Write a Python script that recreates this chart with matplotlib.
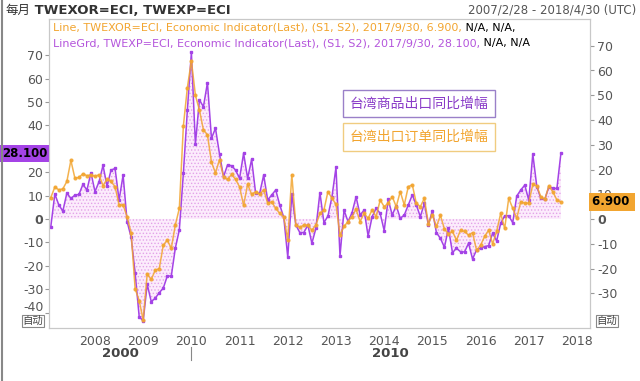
import matplotlib
matplotlib.use('Agg')
import matplotlib.pyplot as plt
from matplotlib.transforms import ScaledTranslation

plt.rcParams['font.family'] = ['DejaVu Sans', 'Noto Sans CJK SC']
plt.rcParams['hatch.linewidth'] = 0.6

# monthly data, Feb 2007 .. Sep 2017
start_year, start_month = 2007, 2

# TWEXP (exports yoy, left axis)
twexp = [-3.3, 10.7, 6.0, 3.4, 11.1, 8.8, 10.2, 10.5, 14.8, 12.4, 19.8,
         11.7, 15.9, 22.9, 14.1, 20.9, 21.6, 8.1, 18.8, -1.1, -7.8, -23.2, -41.7,
         -43.6, -27.9, -35.3, -33.9, -31.5, -29.6, -24.4, -24.4, -12.5, -4.7, 19.5, 46.6,
         71.2, 32.1, 50.9, 48.0, 58.3, 34.5, 38.8, 27.8, 18.1, 23.1, 22.8, 20.9,
         17.4, 28.1, 17.4, 25.5, 11.0, 11.0, 18.8, 8.1, 10.3, 12.4, 6.0, 0.7,
         -16.4, 10.7, -2.6, -5.8, -5.8, -2.6, -10.4, -4.0, 11.3, -1.6, 1.3, 9.5,
         22.1, -15.8, 3.8, -1.1, 2.7, 9.5, 1.7, 3.8, -7.3, 1.0, 4.6, 2.4,
         -5.0, 8.4, 1.7, 5.7, 0.3, 1.7, 6.0, 10.3, 6.0, 1.0, 6.7, -2.6,
         3.6, -5.8, -8.3, -12.1, -4.0, -14.4, -12.5, -14.0, -14.1, -10.4, -17.1, -13.2,
         -12.5, -11.8, -11.4, -6.1, -9.4, -1.9, 1.4, 1.4, -1.6, 9.8, 12.4, 14.5,
         8.0, 27.8, 13.8, 8.8, 8.5, 13.8, 13.1, 13.1, 28.1]

# TWEXOR (export orders yoy, right axis)
twexor = [8.7, 12.9, 11.8, 12.2, 15.2, 23.7, 16.5, 16.8, 18.3, 17.5, 17.9,
          17.2, 17.9, 13.5, 16.1, 15.2, 13.1, 5.7, 5.7, 0.9, -5.6, -28.2, -32.9,
          -40.8, -22.1, -24.4, -20.7, -20.0, -10.6, -8.5, -11.8, -2.4, 4.3, 37.5, 53.1,
          64.0, 50.0, 44.0, 36.0, 34.0, 23.0, 18.6, 24.0, 17.0, 16.0, 18.0, 16.0,
          13.0, 5.5, 14.0, 10.0, 11.0, 10.0, 11.8, 6.4, 7.0, 4.3, 2.3, 0.9,
          -8.5, 17.9, -2.4, -3.4, -2.4, -2.5, -4.5, -2.4, 2.3, 3.7, 11.1, 8.4,
          6.0, -6.5, -3.0, -1.0, 1.0, 4.0, -1.0, 2.3, 0.3, 3.7, 0.9, 7.7,
          5.0, 6.4, 9.1, 5.0, 11.1, 5.7, 13.1, 13.8, 6.4, 5.0, 8.4, -1.8,
          1.6, -3.0, 1.5, -4.0, -6.0, -5.0, -8.5, -4.5, -5.0, -6.5, -5.5, -12.6,
          -10.6, -7.0, -4.5, -10.0, -5.0, 2.3, -3.8, 8.4, 4.3, 0.3, 7.0, 6.4,
          6.5, 14.0, 13.4, 9.0, 8.0, 13.4, 11.0, 7.7, 6.9]

years = list(range(2008, 2019))
left_ticks = list(range(-40, 80, 10))
right_ticks = list(range(-30, 80, 10))
legend_labels = ['台湾商品出口同比增幅', '台湾出口订单同比增幅']

purple = '#a443e6'
orange = '#f2a530'
grey = '#555555'

x = [start_year + (start_month - 1 + i) / 12 for i in range(len(twexp))]

W, H = 640, 381
fig = plt.figure(figsize=(W / 100, H / 100), dpi=100)
L, R, T, B = 49, 590, 19, 328
ax = fig.add_axes([L / W, 1 - B / H, (R - L) / W, (B - T) / H])
ax2 = ax.twinx()

ax.set_xlim(2007.046, 2018.27)
ax.set_ylim(-46.6, 85.5)
ax2.set_ylim(-44.0, 80.8)

# purple series with dotted pink fill down to zero
ax.fill_between(x, twexp, 0, facecolor='#fcecfc', edgecolor='#e3a3e8', hatch='.....', linewidth=0)
ax.plot(x, twexp, color=purple, lw=1.1, marker='s', ms=2.0, zorder=3)
ax2.plot(x, twexor, color=orange, lw=1.1, marker='o', ms=2.0, alpha=0.85, zorder=3)

for a in (ax, ax2):
    for s in a.spines.values():
        s.set_color('#c8c8c8')

ax.set_yticks(left_ticks)
ax.set_yticklabels([str(v) for v in left_ticks])
ax2.set_yticks(right_ticks)
ax2.set_yticklabels([str(v) for v in right_ticks])
ax.tick_params(axis='y', length=3, color='#999999', labelsize=9, labelcolor=grey, pad=1)
ax2.tick_params(axis='y', length=3, color='#999999', labelsize=9, labelcolor=grey, pad=2)
for lab in ax.get_yticklabels() + ax2.get_yticklabels():
    if lab.get_text() == '0':
        lab.set_fontweight('bold')
for lab in ax.get_yticklabels():
    if lab.get_text() == '-40':
        lab.set_transform(lab.get_transform() + ScaledTranslation(0, 7 / 100, fig.dpi_scale_trans))

ax.set_xticks(years)
ax.set_xticklabels([str(y) for y in years])
ax.tick_params(axis='x', length=0, labelsize=9, labelcolor=grey, pad=5)

# decade labels under the years
xt = ax.get_xaxis_transform()
x0, x1 = ax.get_xlim()
ax.text((x0 + 2010) / 2, -0.081, '2000', transform=xt, ha='center', va='center',
        fontsize=9.5, fontweight='bold', color='#444444')
ax.text((2010 + x1) / 2, -0.081, '2010', transform=xt, ha='center', va='center',
        fontsize=9.5, fontweight='bold', color='#444444')
ax.plot([2010, 2010], [-0.061, -0.104], transform=xt, color='#888888', lw=0.8, clip_on=False)

# last value tags
ax.text(-0.003, twexp[-1], '28.100', transform=ax.get_yaxis_transform(), ha='right', va='center',
        fontsize=8.5, fontweight='bold', color='black', zorder=5,
        bbox=dict(boxstyle='square,pad=0.18', fc=purple, ec='none'))
ax2.text(1.003, twexor[-1], '6.900 ', transform=ax2.get_yaxis_transform(), ha='left', va='center',
         fontsize=8.5, fontweight='bold', color='black', zorder=5,
         bbox=dict(boxstyle='square,pad=0.18', fc=orange, ec='none'))

# legend boxes
fig.text(419 / W, 1 - 103.5 / H, legend_labels[0], ha='center', va='center', fontsize=10,
         family='Noto Sans CJK SC', color='#8a3cc8',
         bbox=dict(boxstyle='square,pad=0.5', fc='white', ec='#9a80c8', lw=1))
fig.text(419 / W, 1 - 137 / H, legend_labels[1], ha='center', va='center', fontsize=10,
         family='Noto Sans CJK SC', color=orange,
         bbox=dict(boxstyle='square,pad=0.5', fc='white', ec='#f0cc80', lw=1))

# "自动" boxes
for px in (33, 607):
    fig.text(px / W, 1 - 321 / H, '自动', ha='center', va='center', fontsize=7.5,
             family='Noto Sans CJK SC', color='#444444',
             bbox=dict(boxstyle='square,pad=0.1', fc='white', ec='#888888', lw=0.8))

# header
t = fig.text(5 / W, 1 - 10 / H, '每月', fontsize=9, va='center', family='Noto Sans CJK SC', color='#333333')
ax.annotate(' TWEXOR=ECI, TWEXP=ECI', xy=(1, 0.5), xycoords=t, va='center', fontsize=9.5,
            fontweight='bold', color='#333333', annotation_clip=False)
fig.text(636 / W, 1 - 10 / H, '2007/2/28 - 2018/4/30 (UTC)', ha='right', va='center',
         fontsize=8.5, color=grey)


def chain(parts, px, py):
    t = fig.text(px / W, 1 - py / H, parts[0][0], color=parts[0][1], fontsize=8, va='center')
    for s, c in parts[1:]:
        t = ax.annotate(s, xy=(1, 0), xycoords=t, va='bottom', fontsize=8, color=c,
                        annotation_clip=False)


chain([('Line, TWEXOR=ECI, Economic Indicator(Last), (S1, S2), 2017/9/30, 6.900,', orange),
       (' N/A, N/A,', 'black')], 53, 28)
chain([('LineGrd, TWEXP=ECI, Economic Indicator(Last), (S1, S2), 2017/9/30, 28.100,', '#b455dc'),
       (' N/A, N/A', 'black')], 53, 43)

fig.add_artist(plt.Line2D([1.5 / W, 1.5 / W], [0, 1], color='#888888', lw=1.5))

fig.savefig('out.png', dpi=100)
